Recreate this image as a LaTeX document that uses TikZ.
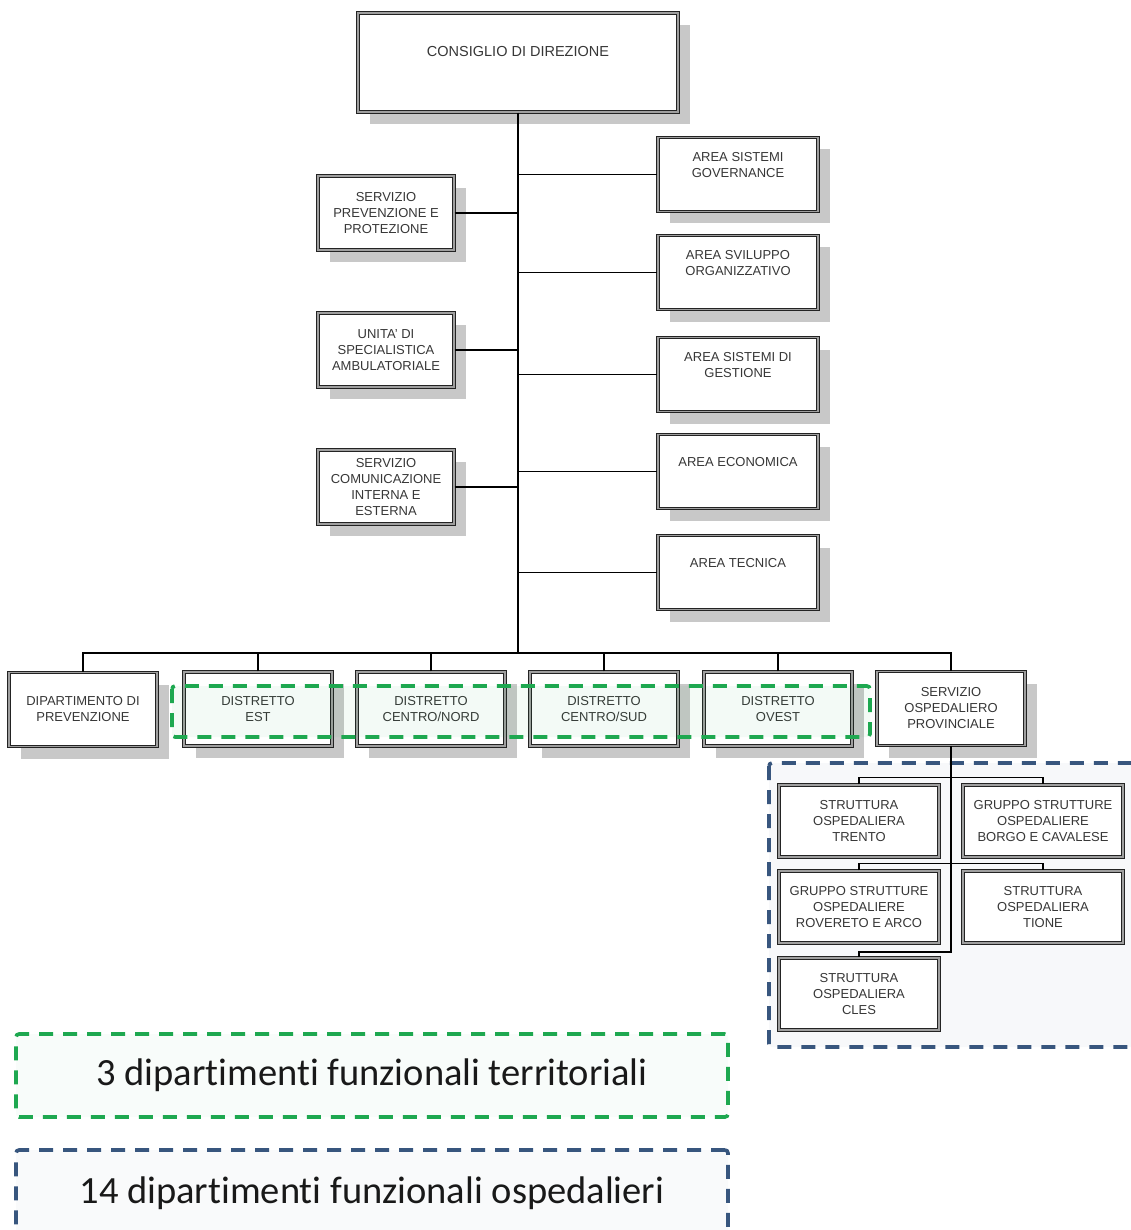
\documentclass[tikz,border=0pt]{standalone}
\usepackage{fontspec}
\setmainfont{Liberation Sans}
\newfontfamily\legendfont[Ligatures=CommonOff]{Carlito}
\usepackage{xcolor}
\usepackage{tikz}
\usetikzlibrary{positioning,shadows}
\definecolor{boxline}{RGB}{35,35,35}
\definecolor{boxtext}{RGB}{55,55,55}
\definecolor{shadowgray}{RGB}{200,200,200}
\definecolor{terrgreen}{RGB}{30,168,80}
\definecolor{hospblue}{RGB}{56,86,126}

\begin{document}
\begin{tikzpicture}[x=1pt, y=-1pt,
    unit/.style={draw=boxline, line width=1.2pt, double=gray!75, double distance=1.1pt,
      fill=white, align=center, text=boxtext, inner sep=2pt,
      font=\fontsize{13}{16}\selectfont, minimum width=148pt, minimum height=74pt},
    shadowed/.style={drop shadow={shadow xshift=12pt, shadow yshift=-12pt, fill=shadowgray, opacity=1}},
    boxcap/.style={align=center, text=boxtext, font=\fontsize{13}{16}\selectfont},
    link/.style={line width=1.3pt},
    spine/.style={line width=2.4pt},
    groupframe/.style={dash pattern=on 14pt off 10pt, line width=3.6pt, rounded corners=3pt},
    legendbox/.style={groupframe, minimum width=712pt, align=center, text=black!90,
      font=\legendfont\fontsize{38.5}{46}\selectfont}]
  \useasboundingbox (0,0) rectangle (1130,1230);

  % direzione
  \node[unit, shadowed, minimum width=320pt, minimum height=99pt] (cdd) at (518,62.5) {};
  \node[boxcap, font=\fontsize{14.5}{17}\selectfont] (cdd-t) at (518,52) {CONSIGLIO DI DIREZIONE};
  \coordinate (bus) at (517,653);

  % staff on the left
  \node[unit, shadowed, minimum width=136pt] (spp) at (386,213) {SERVIZIO\\PREVENZIONE E\\PROTEZIONE};
  \node[unit, shadowed, minimum width=136pt] (usa) at (386,350) {UNITA' DI\\SPECIALISTICA\\AMBULATORIALE};
  \node[unit, shadowed, minimum width=136pt] (sci) at (386,487) {SERVIZIO\\COMUNICAZIONE\\INTERNA E\\ESTERNA};

  % aree on the right
  \node[unit, shadowed, minimum width=160pt] (asg) at (738,174.5) {};
  \node[boxcap] (asg-t) at (738,165) {AREA SISTEMI\\GOVERNANCE};
  \node[unit, shadowed, minimum width=160pt] (aso) at (738,272.5) {};
  \node[boxcap] (aso-t) at (738,263) {AREA SVILUPPO\\ORGANIZZATIVO};
  \node[unit, shadowed, minimum width=160pt] (asd) at (738,374.5) {};
  \node[boxcap] (asd-t) at (738,365) {AREA SISTEMI DI\\GESTIONE};
  \node[unit, shadowed, minimum width=160pt] (aec) at (738,471.5) {};
  \node[boxcap] (aec-t) at (738,462) {AREA ECONOMICA};
  \node[unit, shadowed, minimum width=160pt] (ate) at (738,572.5) {};
  \node[boxcap] (ate-t) at (738,563) {AREA TECNICA};

  % trunk and side links
  \draw[spine] (cdd.south) -- (cdd.south |- bus);
  \foreach \s in {spp,usa,sci}
    \draw[link] (\s.east) -- (\s.east -| cdd.south);
  \foreach \a in {asg,aso,asd,aec,ate}
    \draw[link] (cdd.south |- \a.west) -- (\a.west);

  % bottom row
  \node[unit, shadowed] (dip) at (83,709.5) {DIPARTIMENTO DI\\PREVENZIONE};
  \node[unit, shadowed] (est) at (258,709) {DISTRETTO\\EST};
  \node[unit, shadowed] (cn) at (431,709) {DISTRETTO\\CENTRO/NORD};
  \node[unit, shadowed] (cs) at (604,709) {DISTRETTO\\CENTRO/SUD};
  \node[unit, shadowed] (ovest) at (778,709) {DISTRETTO\\OVEST};
  \node[unit, shadowed] (sop) at (951,708.5) {SERVIZIO\\OSPEDALIERO\\PROVINCIALE};

  \draw[link] (dip.north) |- (bus) -| (sop.north);
  \foreach \d in {est,cn,cs,ovest}
    \draw[link] (\d.north) -- (\d.north |- bus);

  % distretti group
  \draw[terrgreen, groupframe, fill=terrgreen, fill opacity=0.05] (172,686) rectangle (870,737);

  % ospedali group
  \draw[hospblue, groupframe, fill=hospblue!4] (769,763) rectangle (1150,1047);

  \node[unit, minimum width=160pt, minimum height=72pt] (sot) at (859,821) {STRUTTURA\\OSPEDALIERA\\TRENTO};
  \node[unit, minimum width=160pt, minimum height=72pt] (sbc) at (1043,821) {GRUPPO STRUTTURE\\OSPEDALIERE\\BORGO E CAVALESE};
  \node[unit, minimum width=160pt, minimum height=72pt] (sra) at (859,907) {GRUPPO STRUTTURE\\OSPEDALIERE\\ROVERETO E ARCO};
  \node[unit, minimum width=160pt, minimum height=72pt] (sti) at (1043,907) {STRUTTURA\\OSPEDALIERA\\TIONE};
  \node[unit, minimum width=160pt, minimum height=72pt] (scl) at (859,994) {STRUTTURA\\OSPEDALIERA\\CLES};

  \draw[link] (sop.south) -- ++(0,206) -| (scl.north);
  \draw[link] (sot.north) -- ++(0,-7) -| (sbc.north);
  \draw[link] (sra.north) -- ++(0,-7) -| (sti.north);

  % legend
  \node[legendbox, draw=terrgreen, fill=terrgreen!3, minimum height=83pt] (legterr) at (372,1075.5) {3 dipartimenti funzionali territoriali};
  \node[legendbox, draw=hospblue, fill=hospblue!3, minimum height=86pt] (leghosp) at (372,1193) {14 dipartimenti funzionali ospedalieri};
\end{tikzpicture}
\end{document}
